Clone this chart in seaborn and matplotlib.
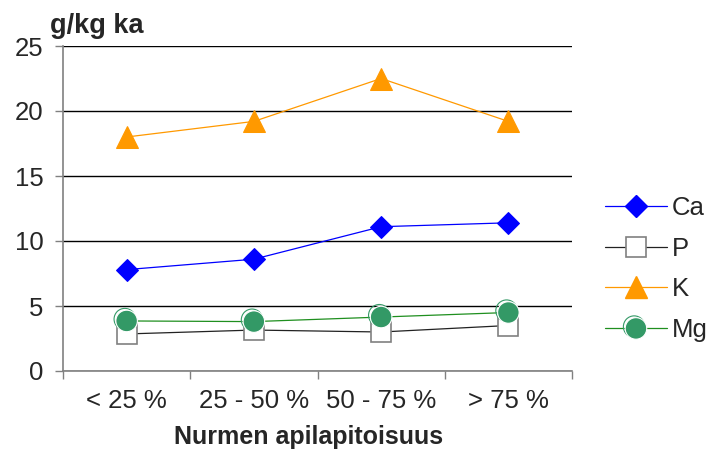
import matplotlib
matplotlib.use("Agg")
import matplotlib.pyplot as plt
import matplotlib.patheffects as pe
from matplotlib.lines import Line2D
import seaborn as sns
import numpy as np

# data
categories = ["< 25 %", "25 - 50 %", "50 - 75 %", "> 75 %"]
ca = [7.8, 8.6, 11.1, 11.4]
p = [2.85, 3.15, 3.0, 3.5]
k = [18.0, 19.2, 22.5, 19.2]
mg = [3.85, 3.8, 4.15, 4.5]
series_names = ["Ca", "P", "K", "Mg"]

sns.set_style("white")
plt.rcParams['font.family'] = ['Liberation Sans', 'DejaVu Sans']

fig = plt.figure(figsize=(7.09, 4.5), dpi=100)
ax = fig.add_axes([63 / 709, 79 / 450, 509 / 709, 325 / 450])

ring = [pe.PathPatchEffect(offset=(-1.3, 1.3), facecolor="none",
                           edgecolor="#339966", linewidth=0.8),
        pe.Normal()]

sns.lineplot(x=categories, y=ca, ax=ax, color="#0000ff", lw=0.9,
             marker="D", markersize=11, markerfacecolor="#0000ff",
             markeredgecolor="#0000ff", zorder=3)
sns.lineplot(x=categories, y=p, ax=ax, color="#222222", lw=0.9,
             marker="s", markersize=15, markerfacecolor="white",
             markeredgecolor="#808080", markeredgewidth=1.2, zorder=3)
sns.lineplot(x=categories, y=k, ax=ax, color="#ff9900", lw=0.9,
             marker="^", markersize=16, markerfacecolor="#ff9900",
             markeredgecolor="#ff9900", zorder=3)
sns.lineplot(x=categories, y=mg, ax=ax, color="#1f8f1f", lw=0.9, zorder=3)
sns.lineplot(x=categories, y=mg, ax=ax, linestyle="none",
             marker="o", markersize=15.5, markerfacecolor="#339966",
             markeredgecolor="white", markeredgewidth=0.8,
             path_effects=ring, zorder=4)

ax.set_xlim(-0.5, 3.5)
ax.set_ylim(0, 25)
ax.set_yticks([0, 5, 10, 15, 20, 25])
ax.yaxis.grid(True, color="black", lw=1)
ax.set_axisbelow(True)
ax.set_xticks(np.arange(len(categories)))
ax.set_xticklabels(categories)
ax.set_xticks(np.arange(-0.5, len(categories)), minor=True)
ax.tick_params(axis="x", which="major", length=0, pad=13, labelsize=18.5)
ax.tick_params(axis="x", which="minor", length=6, width=1, color="#808080",
               direction="out", bottom=True)
ax.tick_params(axis="y", length=6, width=1, color="#808080", direction="out",
               left=True, pad=8, labelsize=18.5)
for side in ["top", "right"]:
    ax.spines[side].set_visible(False)
for side in ["left", "bottom"]:
    ax.spines[side].set_color("#808080")
    ax.spines[side].set_linewidth(1.2)
ax.set_xlabel("")
ax.set_ylabel("")

fig.text(50 / 709, 1 - 13 / 450, "g/kg ka", fontsize=19.5, fontweight="bold",
         ha="left", va="top")
fig.text(309 / 709, 1 - 437 / 450, "Nurmen apilapitoisuus", fontsize=18,
         fontweight="bold", ha="center", va="center")

handles = [
    Line2D([], [], color="#0000ff", lw=0.9, marker="D", markersize=11,
           markerfacecolor="#0000ff", markeredgecolor="#0000ff"),
    Line2D([], [], color="#222222", lw=0.9, marker="s", markersize=15,
           markerfacecolor="white", markeredgecolor="#808080",
           markeredgewidth=1.2),
    Line2D([], [], color="#ff9900", lw=0.9, marker="^", markersize=16,
           markerfacecolor="#ff9900", markeredgecolor="#ff9900"),
    (Line2D([], [], color="#1f8f1f", lw=0.9),
     Line2D([], [], linestyle="none", marker="o", markersize=15.5,
            markerfacecolor="#339966", markeredgecolor="white",
            markeredgewidth=0.8, path_effects=ring)),
]
fig.legend(handles, series_names, loc="center left",
           bbox_to_anchor=(582 / 709, 1 - 269 / 450), frameon=False,
           fontsize=18.5, handlelength=2.4, handletextpad=0.2,
           labelspacing=0.66)

fig.savefig("out.png", dpi=100)
